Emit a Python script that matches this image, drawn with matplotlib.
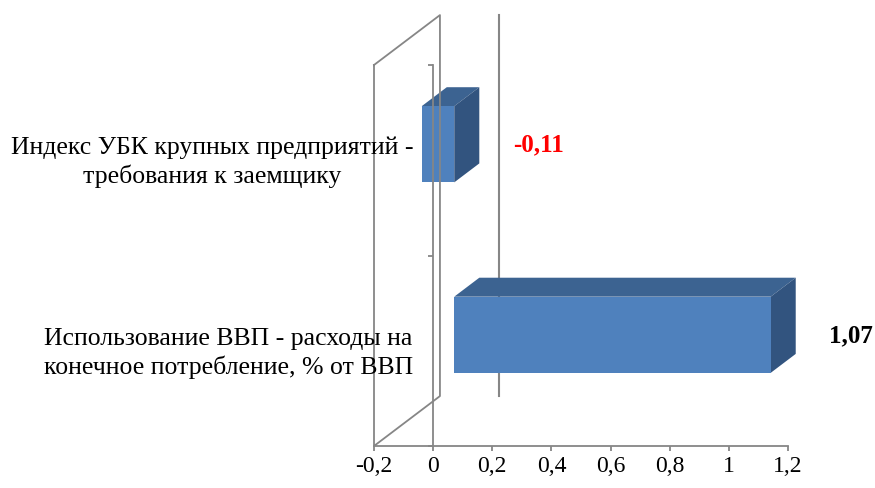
import numpy as np
import matplotlib
matplotlib.use("Agg")
import matplotlib.pyplot as plt
from matplotlib.patches import Polygon

plt.rcParams['font.family'] = ['Liberation Serif', 'DejaVu Serif']

# data
categories = ["Индекс УБК крупных предприятий -\nтребования к заемщику",
              "Использование ВВП - расходы на\nконечное потребление, % от ВВП"]
values = [-0.11, 1.07]
value_labels = ["-0,11", "1,07"]
value_label_colors = ["#FF0000", "#000000"]
x_ticks = [-0.2, 0, 0.2, 0.4, 0.6, 0.8, 1.0, 1.2]
x_tick_labels = ["-0,2", "0", "0,2", "0,4", "0,6", "0,8", "1", "1,2"]

# 3d look: full depth shift in data units
DX = 0.223
DY = 0.262
D0, D1 = 0.32, 0.70   # bar depth range
HALF = 0.2            # half bar height (category units)

front_col = '#4F81BD'
top_col = '#3C6391'
side_col = '#32547F'
gray = '#868686'


def P(v, c, d):
    return (v + d * DX, c - d * DY)


fig = plt.figure(figsize=(8.75, 4.89), dpi=100)
ax = fig.add_axes([374 / 875, 42 / 489, 414 / 875, 381 / 489])
ax.set_xlim(x_ticks[0], x_ticks[-1])
ax.set_ylim(len(categories), 0)
ax.patch.set_visible(False)

# axes: value axis crosses at 0
ax.spines['top'].set_visible(False)
ax.spines['right'].set_visible(False)
ax.spines['left'].set_position(('data', 0))
for s in ['left', 'bottom']:
    ax.spines[s].set_color(gray)
    ax.spines[s].set_linewidth(1.3)
ax.set_xticks(x_ticks)
ax.set_xticklabels(x_tick_labels, fontsize=17)
ax.set_yticks(np.arange(len(categories) + 1))
ax.set_yticklabels([])
ax.tick_params(axis='both', color=gray, width=1.3, length=3.6, direction='out')
ax.tick_params(axis='x', pad=3)

xmin = x_ticks[0]
ncat = len(categories)

# side wall at the left end of the value axis
wall = [P(xmin, 0, 0), P(xmin, ncat, 0), P(xmin, ncat, 1), P(xmin, 0, 1), P(xmin, 0, 0)]
wx, wy = zip(*wall)
ax.plot(wx, wy, color=gray, lw=1.3, clip_on=False, zorder=3)

# back zero gridline
g = [P(0, 0, 1), P(0, ncat, 1)]
gx, gy = zip(*g)
ax.plot(gx, gy, color=gray, lw=1.5, clip_on=False, zorder=0.5)

# bars
for i, v in enumerate(values):
    c = i + 0.5
    lo, hi = min(0, v), max(0, v)
    top = c - HALF
    bot = c + HALF
    front = [P(lo, top, D0), P(hi, top, D0), P(hi, bot, D0), P(lo, bot, D0)]
    topf = [P(lo, top, D0), P(hi, top, D0), P(hi, top, D1), P(lo, top, D1)]
    side = [P(hi, top, D0), P(hi, bot, D0), P(hi, bot, D1), P(hi, top, D1)]
    for poly, col in [(topf, top_col), (side, side_col), (front, front_col)]:
        ax.add_patch(Polygon(poly, closed=True, facecolor=col, edgecolor='none',
                             clip_on=False, zorder=1))
    # data label
    ax.annotate(value_labels[i], xy=(P(hi, c, D1)[0], P(hi, c, D0)[1]),
                xytext=(24, 0), textcoords='offset points',
                ha='left', va='center', fontsize=18, fontweight='bold',
                color=value_label_colors[i], annotation_clip=False)
    # category label
    ax.annotate(categories[i], xy=(0, c), xytext=(-14.5, -1),
                textcoords='offset points', ha='right', va='center',
                multialignment='center', fontsize=18.5, linespacing=1.3,
                annotation_clip=False)

fig.savefig('out.png', dpi=100)
